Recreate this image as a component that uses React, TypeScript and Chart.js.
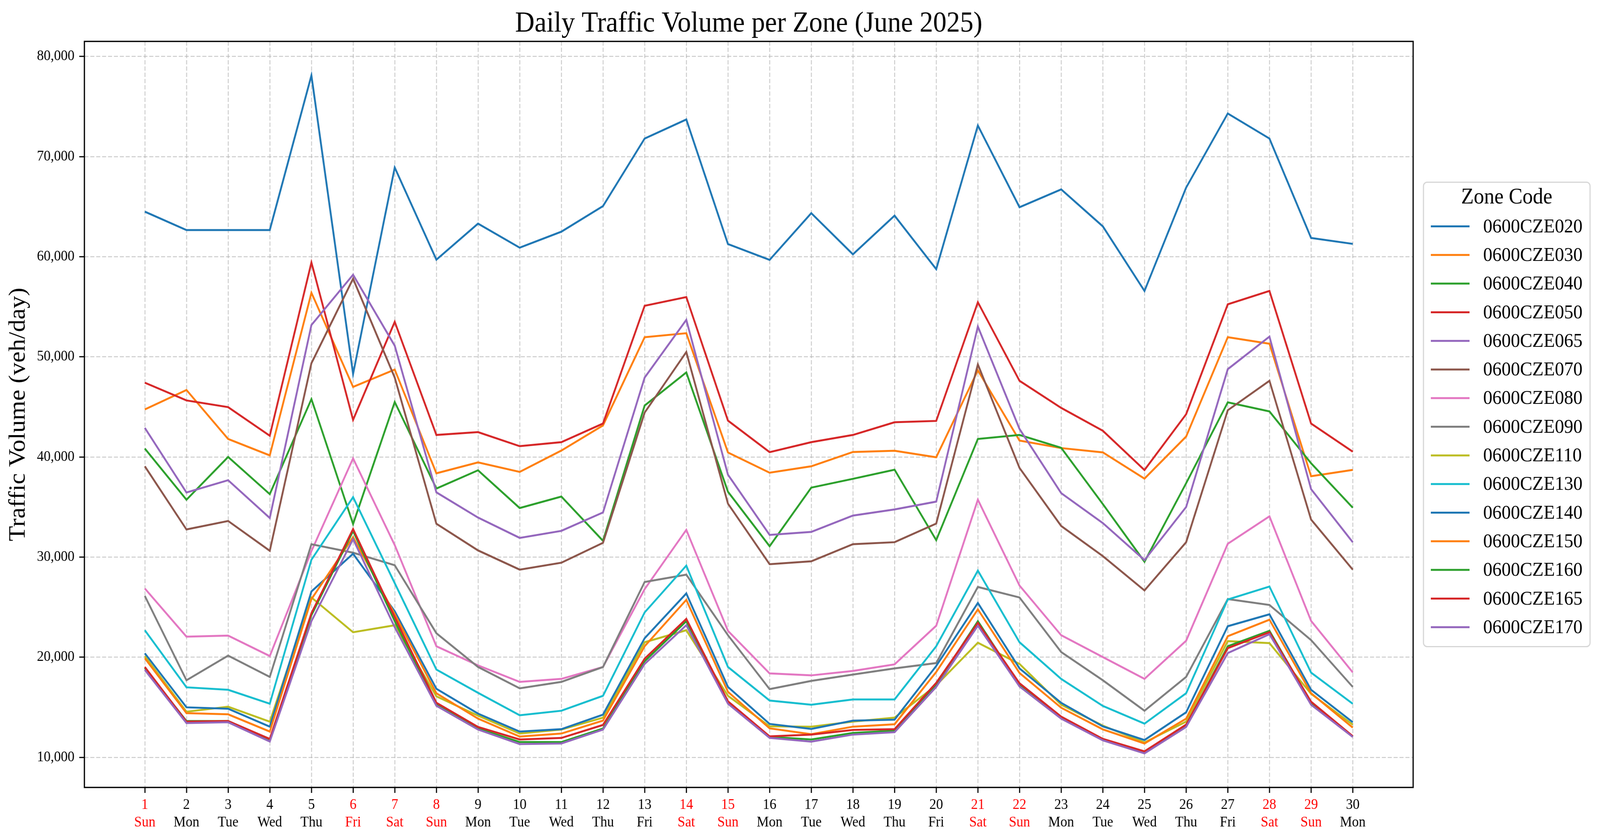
import React, { useEffect, useRef } from "react";
import { Chart, registerables } from "chart.js";

Chart.register(...registerables);

const FONT = "'Liberation Serif', 'Times New Roman', serif";
const TITLE = "Daily Traffic Volume per Zone (June 2025)";
const Y_TITLE = "Traffic Volume (veh/day)";
const LEGEND_TITLE = "Zone Code";

const DAYS = [1, 2, 3, 4, 5, 6, 7, 8, 9, 10, 11, 12, 13, 14, 15, 16, 17, 18, 19, 20, 21, 22, 23, 24, 25, 26, 27, 28, 29, 30];
const WEEKDAYS = [
  "Sun", "Mon", "Tue", "Wed", "Thu", "Fri", "Sat",
  "Sun", "Mon", "Tue", "Wed", "Thu", "Fri", "Sat",
  "Sun", "Mon", "Tue", "Wed", "Thu", "Fri", "Sat",
  "Sun", "Mon", "Tue", "Wed", "Thu", "Fri", "Sat",
  "Sun", "Mon",
];
const RED_DAYS = [1, 6, 7, 8, 14, 15, 21, 22, 28, 29];
const Y_TICKS = [10000, 20000, 30000, 40000, 50000, 60000, 70000, 80000];

const ZONES = [
  "0600CZE020", "0600CZE030", "0600CZE040", "0600CZE050", "0600CZE065",
  "0600CZE070", "0600CZE080", "0600CZE090", "0600CZE110", "0600CZE130",
  "0600CZE140", "0600CZE150", "0600CZE160", "0600CZE165", "0600CZE170",
];
const COLORS = [
  "#1f77b4", "#ff7f0e", "#2ca02c", "#d62728", "#9467bd",
  "#8c564b", "#e377c2", "#7f7f7f", "#bcbd22", "#17becf",
  "#1f77b4", "#ff7f0e", "#2ca02c", "#d62728", "#9467bd",
];

const Z020 = [64500, 62660, 62660, 62660, 78100, 48300, 68900, 59700, 63300, 60900, 62500, 65050, 71800, 73700, 61260, 59680, 64350, 60240, 64100, 58760, 73100, 64940, 66720, 63030, 56580, 66900, 74300, 71800, 61870, 61280];
const Z030 = [44750, 46690, 41800, 40160, 56400, 47000, 48730, 38370, 39460, 38510, 40640, 43150, 51960, 52360, 40450, 38430, 39070, 40500, 40620, 39970, 48650, 41640, 40890, 40460, 37840, 42040, 51960, 51310, 38080, 38710];
const Z040 = [40840, 35730, 40000, 36290, 45780, 33310, 45490, 36850, 38670, 34900, 36050, 31630, 45140, 48440, 36530, 31090, 36940, 37820, 38730, 31690, 41800, 42200, 40920, 35300, 29540, 37380, 45460, 44550, 39370, 34940];
const Z050 = [47420, 45650, 44980, 42120, 59430, 43710, 53500, 42200, 42480, 41080, 41480, 43340, 55100, 55970, 43630, 40480, 41480, 42200, 43470, 43600, 55450, 47610, 44900, 42620, 38700, 44270, 55250, 56580, 43340, 40530];
const Z065 = [42910, 36450, 37680, 33910, 53180, 58200, 51110, 36470, 33950, 31920, 32620, 34460, 47930, 53690, 38230, 32220, 32520, 34150, 34760, 35540, 53030, 42800, 36390, 33400, 29700, 35000, 48770, 52020, 36790, 31490];
const Z070 = [39070, 32760, 33610, 30630, 49360, 57800, 47930, 33330, 30670, 28750, 29440, 31430, 44430, 50480, 35340, 29290, 29580, 31290, 31490, 33350, 49240, 38910, 33110, 30100, 26670, 31490, 44670, 47610, 33750, 28750];
const Z080 = [26870, 22060, 22160, 20120, 30600, 39860, 31200, 21100, 19190, 17540, 17840, 19030, 26800, 32720, 22640, 18390, 18190, 18630, 19290, 23150, 35730, 27160, 22200, 20020, 17840, 21650, 31330, 34070, 23630, 18490];
const Z090 = [26130, 17700, 20160, 18040, 31290, 30440, 29190, 22400, 19030, 16900, 17540, 19030, 27520, 28250, 22200, 16820, 17640, 18270, 18890, 19420, 27020, 25970, 20520, 17700, 14660, 18040, 25810, 25220, 21710, 17040];
const Z110 = [20100, 14560, 15060, 13570, 25970, 22500, 23200, 16100, 14170, 12380, 12780, 13970, 21500, 22700, 16150, 13100, 13070, 13570, 13970, 17200, 21450, 19330, 15260, 13170, 11490, 13570, 21610, 21410, 16350, 13270];
const Z130 = [22700, 17000, 16750, 15360, 29740, 35990, 27400, 18770, 16450, 14210, 14660, 16150, 24480, 29150, 19030, 15680, 15260, 15790, 15790, 21100, 28650, 21500, 17840, 15140, 13370, 16410, 25770, 27060, 18470, 15360];
const Z140 = [20400, 15000, 14860, 13070, 26570, 30340, 24600, 16850, 14370, 12580, 12820, 14270, 21900, 26370, 17040, 13340, 12840, 13670, 13770, 19130, 25420, 18890, 15450, 13100, 11730, 14500, 23100, 24290, 16750, 13510];
const Z150 = [19900, 14420, 14300, 12580, 25800, 32000, 24300, 16400, 13870, 12080, 12380, 13670, 21100, 25730, 16550, 12900, 12320, 13070, 13310, 18530, 24780, 18430, 14960, 12800, 11390, 13870, 22100, 23750, 16410, 12980];
const Z160 = [18930, 13630, 13630, 11780, 24200, 32600, 23600, 15260, 12880, 11530, 11530, 12880, 19600, 23600, 15450, 12050, 11790, 12440, 12680, 17240, 23600, 17240, 13970, 11800, 10500, 13170, 21100, 22640, 15460, 12080];
const Z165 = [19030, 13570, 13630, 11840, 24400, 32800, 24000, 15460, 13040, 11790, 11940, 13240, 19860, 23830, 15600, 12100, 12280, 12740, 12820, 17440, 23430, 17400, 14070, 11850, 10600, 13270, 20910, 22500, 15560, 12120];
const Z170 = [18730, 13430, 13510, 11590, 23600, 31800, 23000, 15160, 12780, 11330, 11390, 12780, 19330, 23200, 15360, 11950, 11570, 12280, 12520, 17040, 23150, 17080, 13870, 11700, 10400, 13040, 20420, 22300, 15260, 12040];

const SERIES = [Z020, Z030, Z040, Z050, Z065, Z070, Z080, Z090, Z110, Z130, Z140, Z150, Z160, Z165, Z170];

const W = 4341;
const H = 2148;
const GRID_COLOR = "rgba(176,176,176,0.65)";

const framePlugin = {
  id: "frame",
  afterDatasetsDraw(chart: any) {
    const { ctx, chartArea: a } = chart;
    ctx.save();
    ctx.strokeStyle = "#000";
    ctx.lineWidth = 3.3;
    ctx.strokeRect(a.left, a.top, a.right - a.left, a.bottom - a.top);
    ctx.restore();
  },
};

const legendPlugin = {
  id: "zoneLegend",
  afterDraw(chart: any) {
    const { ctx, chartArea: a } = chart;
    const boxL = a.right + 28;
    const boxW = 452;
    const boxH = 1189;
    const cy = (a.top + a.bottom) / 2;
    const boxT = cy - boxH / 2;
    ctx.save();
    ctx.beginPath();
    if (ctx.roundRect) ctx.roundRect(boxL, boxT, boxW, boxH, 10);
    else ctx.rect(boxL, boxT, boxW, boxH);
    ctx.fillStyle = "rgba(255,255,255,0.8)";
    ctx.fill();
    ctx.lineWidth = 3;
    ctx.strokeStyle = "#d6d6d6";
    ctx.stroke();

    ctx.fillStyle = "#000";
    ctx.textAlign = "center";
    ctx.textBaseline = "middle";
    ctx.font = `56px ${FONT}`;
    ctx.fillText(LEGEND_TITLE, boxL + boxW / 2, boxT + 40);

    ctx.font = `50px ${FONT}`;
    ctx.textAlign = "left";
    chart.data.datasets.forEach((ds: any, i: number) => {
      const y = boxT + 113 + i * 73.3;
      ctx.strokeStyle = ds.borderColor;
      ctx.lineWidth = 5;
      ctx.beginPath();
      ctx.moveTo(boxL + 20, y);
      ctx.lineTo(boxL + 125, y);
      ctx.stroke();
      ctx.fillStyle = "#000";
      ctx.fillText(ds.label, boxL + 162, y + 2);
    });
    ctx.restore();
  },
};

export default function App() {
  const ref = useRef<HTMLCanvasElement | null>(null);
  const vw = typeof window !== "undefined" && window.innerWidth ? window.innerWidth : W;
  const vh = typeof window !== "undefined" && window.innerHeight ? window.innerHeight : H;
  const sx = vw / W;
  const sy = vh / H;

  useEffect(() => {
    document.body.style.margin = "0";
    document.documentElement.style.overflow = "hidden";
    const canvas = ref.current;
    if (!canvas) return;

    const datasets = ZONES.map((zone, i) => ({
      label: zone,
      data: DAYS.map((d, j) => ({ x: d, y: SERIES[i][j] })),
      borderColor: COLORS[i],
      backgroundColor: COLORS[i],
      borderWidth: 5,
      pointRadius: 0,
      pointHoverRadius: 0,
      tension: 0,
      fill: false,
      order: ZONES.length - i,
    }));

    const chart = new Chart(canvas, {
      type: "line",
      data: { datasets },
      options: {
        responsive: false,
        maintainAspectRatio: false,
        animation: false,
        devicePixelRatio: Math.max(1, window.devicePixelRatio || 1),
        events: [],
        layout: { padding: { left: 0, right: W - 3834, top: 0, bottom: 0 } },
        plugins: {
          legend: { display: false },
          tooltip: { enabled: false },
          title: {
            display: true,
            fullSize: false,
            text: TITLE,
            color: "#000",
            font: { family: FONT, size: 73, weight: "normal", lineHeight: 1.2 },
            padding: { top: 18, bottom: 0.4 },
          },
        },
        scales: {
          x: {
            type: "linear",
            min: -0.45,
            max: 31.45,
            afterBuildTicks: (s: any) => {
              s.ticks = DAYS.map((v) => ({ value: v }));
            },
            afterFit: (s: any) => {
              s.height = 132;
            },
            ticks: {
              autoSkip: false,
              maxRotation: 0,
              minRotation: 0,
              padding: 9,
              color: (c: any) => (RED_DAYS.includes(c.tick && c.tick.value) ? "#ff0000" : "#000"),
              font: { family: FONT, size: 37, lineHeight: 1.22 },
              callback: (v: any) => [String(v), WEEKDAYS[Number(v) - 1]],
            },
            grid: {
              color: GRID_COLOR,
              lineWidth: 2.5,
              tickLength: 14,
              tickColor: "#000",
              tickWidth: 3,
              tickBorderDash: [],
            },
            border: { display: false, dash: [11, 5] },
          },
          y: {
            type: "linear",
            min: 7000,
            max: 81500,
            afterBuildTicks: (s: any) => {
              s.ticks = Y_TICKS.map((v) => ({ value: v }));
            },
            afterFit: (s: any) => {
              s.width = 229;
            },
            ticks: {
              padding: 13,
              color: "#000",
              font: { family: FONT, size: 37 },
              callback: (v: any) => Number(v).toLocaleString("en-US"),
            },
            title: {
              display: true,
              text: Y_TITLE,
              color: "#000",
              font: { family: FONT, size: 64, lineHeight: 1.2 },
              padding: { top: 12, bottom: 0 },
            },
            grid: {
              color: GRID_COLOR,
              lineWidth: 2.5,
              tickLength: 14,
              tickColor: "#000",
              tickWidth: 3,
              tickBorderDash: [],
            },
            border: { display: false, dash: [11, 5] },
          },
        },
      },
      plugins: [framePlugin, legendPlugin],
    } as any);

    return () => {
      chart.destroy();
    };
  }, []);

  return (
    <div
      style={{
        position: "fixed",
        left: 0,
        top: 0,
        width: vw,
        height: vh,
        overflow: "hidden",
        background: "#fff",
      }}
    >
      <canvas
        ref={ref}
        width={W}
        height={H}
        style={{
          width: W,
          height: H,
          display: "block",
          transformOrigin: "0 0",
          transform: `scale(${sx}, ${sy})`,
        }}
      />
    </div>
  );
}
